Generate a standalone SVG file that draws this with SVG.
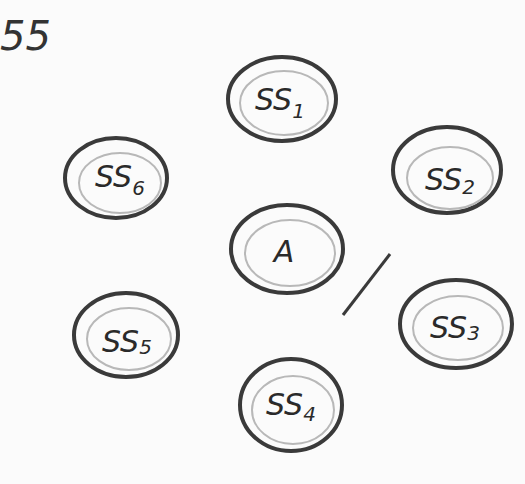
<svg xmlns="http://www.w3.org/2000/svg" width="525" height="484" viewBox="0 0 525 484">
<style>
.outer{fill:none;stroke:#3a3a3a;stroke-width:4}
.inner{fill:none;stroke:#b8b8b8;stroke-width:2}
.lbl{font-family:"DejaVu Sans",sans-serif;font-style:italic;font-size:30px;fill:#2a2a2a;text-anchor:middle}
.sub{font-size:20px}
</style>
<rect width="525" height="484" fill="#fbfbfb"/>
<text x="0" y="50" font-family="DejaVu Sans, sans-serif" font-style="italic" font-size="40" fill="#333">55</text>
<g id="connectors">
<line x1="390" y1="254" x2="343" y2="315" stroke="#3a3a3a" stroke-width="3"/>
</g>
<g id="SS1">
<ellipse class="outer" cx="282" cy="99" rx="54" ry="42"/>
<ellipse class="inner" cx="284" cy="103" rx="44" ry="32"/>
<text class="lbl" x="280" y="110">SS<tspan class="sub" dy="8">1</tspan></text>
</g>
<g id="SS6">
<ellipse class="outer" cx="116" cy="178" rx="51" ry="40"/>
<ellipse class="inner" cx="120" cy="183" rx="41" ry="30"/>
<text class="lbl" x="120" y="187" font-size="24">SS<tspan class="sub" dy="8">6</tspan></text>
</g>
<g id="SS2">
<ellipse class="outer" cx="447" cy="170" rx="54" ry="43"/>
<ellipse class="inner" cx="450" cy="178" rx="43" ry="31"/>
<text class="lbl" x="450" y="190">SS<tspan class="sub" dy="4">2</tspan></text>
</g>
<g id="A">
<ellipse class="outer" cx="287" cy="249" rx="56" ry="44"/>
<ellipse class="inner" cx="290" cy="253" rx="45" ry="33"/>
<text class="lbl" x="284" y="262" font-size="34">A</text>
</g>
<g id="SS5">
<ellipse class="outer" cx="126" cy="335" rx="52" ry="42"/>
<ellipse class="inner" cx="129" cy="339" rx="42" ry="31"/>
<text class="lbl" x="127" y="352">SS<tspan class="sub" dy="2">5</tspan></text>
</g>
<g id="SS3">
<ellipse class="outer" cx="456" cy="324" rx="56" ry="44"/>
<ellipse class="inner" cx="458" cy="328" rx="45" ry="32"/>
<text class="lbl" x="455" y="338">SS<tspan class="sub" dy="2">3</tspan></text>
</g>
<g id="SS4">
<ellipse class="outer" cx="291" cy="405" rx="51" ry="46"/>
<ellipse class="inner" cx="293" cy="410" rx="41" ry="34"/>
<text class="lbl" x="291" y="415">SS<tspan class="sub" dy="6">4</tspan></text>
</g>
</svg>
